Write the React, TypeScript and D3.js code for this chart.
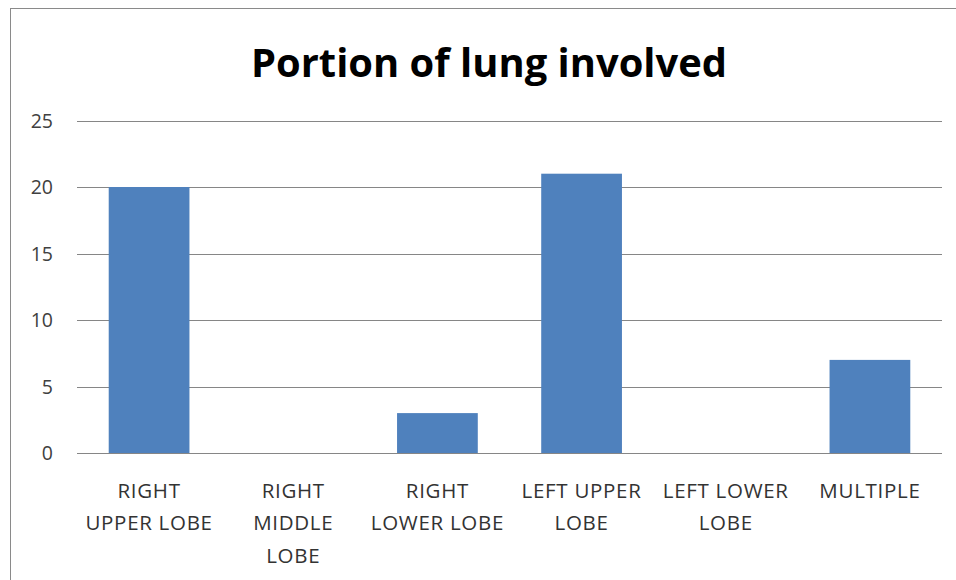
import React from "react";
import * as d3 from "d3";

const categories: string[][] = [
  ["RIGHT", "UPPER LOBE"],
  ["RIGHT", "MIDDLE", "LOBE"],
  ["RIGHT", "LOWER LOBE"],
  ["LEFT UPPER", "LOBE"],
  ["LEFT LOWER", "LOBE"],
  ["MULTIPLE"],
];
const values: number[] = [20, 0, 3, 21, 0, 7];
const yTicks: number[] = [0, 5, 10, 15, 20, 25];
const title = "Portion of lung involved";

const W = 956;
const H = 580;
const left = 77;
const right = 942;
const top = 120.5;
const bottom = 453;

export default function App() {
  const keys = categories.map((_, i) => String(i));
  const x = d3.scaleBand<string>().domain(keys).range([left, right]).paddingInner(0.44).paddingOuter(0.22);
  const y = d3.scaleLinear().domain([0, 25]).range([bottom, top]);
  const font = "'Open Sans', sans-serif";
  return (
    <svg width={W} height={H} style={{ position: "absolute", left: 0, top: 0, background: "#fff" }}>
      <rect x={0} y={0} width={W} height={H} fill="#fff" />
      <rect x={10.5} y={8.5} width={W + 20} height={H + 20} fill="none" stroke="#8a8a8a" strokeWidth={1} />
      <text x={489} y={77} textAnchor="middle" fontFamily={font} fontWeight={700} fontSize={39} fill="#000" textLength={476} lengthAdjust="spacingAndGlyphs">
        {title}
      </text>
      {yTicks.map((t) => (
        <g key={t}>
          <line x1={left} x2={right} y1={Math.round(y(t)) + 0.5} y2={Math.round(y(t)) + 0.5} stroke="#868686" strokeWidth={1} />
          <text x={53} y={y(t) + 7} textAnchor="end" fontFamily={font} fontSize={19.5} fill="#404040">
            {t}
          </text>
        </g>
      ))}
      {values.map((v, i) => (
        <rect key={i} x={x(String(i))} y={y(v)} width={x.bandwidth()} height={bottom - y(v)} fill="#4F81BD" />
      ))}
      {categories.map((lines, i) => {
        const cx = (x(String(i)) as number) + x.bandwidth() / 2;
        return (
          <text key={i} textAnchor="middle" fontFamily={font} fontSize={20.5} letterSpacing={0.7} fill="#333">
            {lines.map((l, j) => (
              <tspan key={j} x={cx} y={497.5 + j * 32.5}>
                {l}
              </tspan>
            ))}
          </text>
        );
      })}
    </svg>
  );
}
